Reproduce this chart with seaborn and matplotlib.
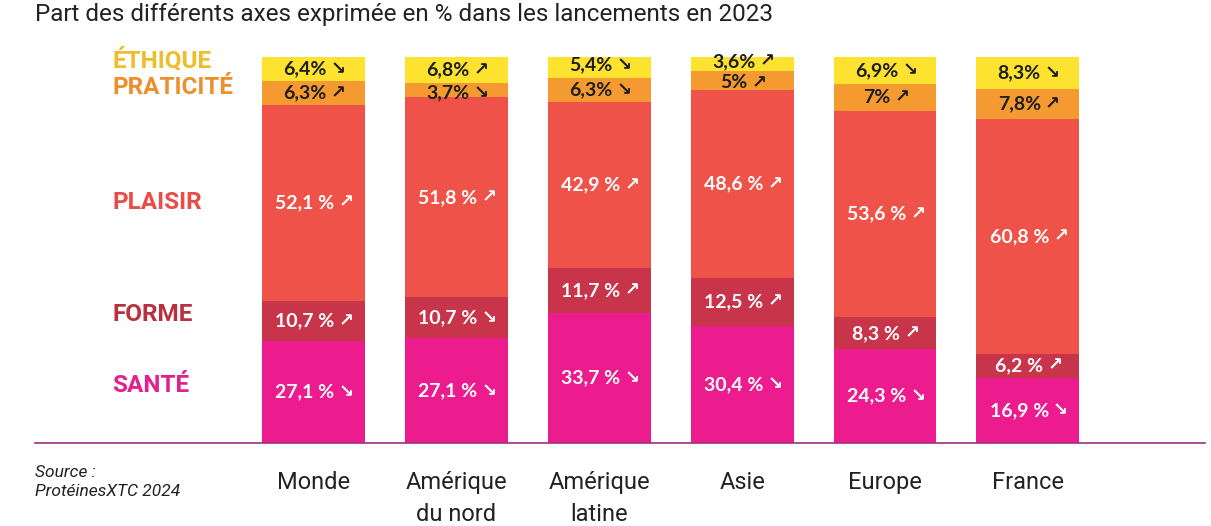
import numpy as np
import pandas as pd
import matplotlib
matplotlib.use("Agg")
import matplotlib.pyplot as plt
import seaborn as sns

regions = ["Monde", "Amérique\ndu nord", "Amérique\nlatine", "Asie", "Europe", "France"]
axes_names = ["SANTÉ", "FORME", "PLAISIR", "PRATICITÉ", "ÉTHIQUE"]
sante = [27.1, 27.1, 33.7, 30.4, 24.3, 16.9]
forme = [10.7, 10.7, 11.7, 12.5, 8.3, 6.2]
plaisir = [52.1, 51.8, 42.9, 48.6, 53.6, 60.8]
praticite = [6.3, 3.7, 6.3, 5.0, 7.0, 7.8]
ethique = [6.4, 6.8, 5.4, 3.6, 6.9, 8.3]
sante_tr = ["down", "down", "down", "down", "down", "down"]
forme_tr = ["up", "down", "up", "up", "up", "up"]
plaisir_tr = ["up", "up", "up", "up", "up", "up"]
praticite_tr = ["up", "down", "down", "up", "up", "up"]
ethique_tr = ["down", "up", "down", "up", "down", "down"]

colors = ["#ec1c8e", "#c8354a", "#ef5249", "#f59a31", "#fde22f"]
label_colors = ["#e0218f", "#b8313f", "#e94d47", "#ec8f2c", "#efbd2a"]
text_colors = ["white", "white", "white", "#1e1e1e", "#1e1e1e"]

series = [sante, forme, plaisir, praticite, ethique]
trends = [sante_tr, forme_tr, plaisir_tr, praticite_tr, ethique_tr]

vals = np.array(series, dtype=float)
totals = vals.sum(axis=0)
norm = vals / totals * 100.0
cum = np.cumsum(norm, axis=0)

sns.set_theme(style="white")
plt.rcParams["font.family"] = ["Lato", "DejaVu Sans"]

fig = plt.figure(figsize=(12.11, 5.26), dpi=100)
ax = fig.add_axes([35 / 1211, (526 - 443) / 526, (1205 - 35) / 1211, (443 - 57) / 526])

order = list(range(len(regions)))
for k in range(len(series) - 1, -1, -1):
    df = pd.DataFrame({"pos": order, "val": cum[k]})
    sns.barplot(data=df, x="pos", y="val", color=colors[k], width=0.72,
                saturation=1, ax=ax, native_scale=True, linewidth=0)

arrow = {"up": "↗", "down": "↘"}
for k in range(len(series)):
    for i in range(len(regions)):
        bottom = cum[k][i] - norm[k][i]
        h = norm[k][i]
        yc = bottom + h / 2
        if h < 5.5 and k == 4:
            yc += 0.6
        if h < 5.5 and k == 3:
            yc -= 0.6
        v = series[k][i]
        s = f"{v:.1f}".replace(".", ",")
        if s.endswith(",0"):
            s = s[:-2]
        sep = "" if k >= 3 else " "
        txt = s + sep + "%"
        t = ax.text(i - 0.06, yc, txt, ha="center", va="center", color=text_colors[k],
                    fontsize=14, fontweight="bold", family=["Lato", "DejaVu Sans"])
        ax.annotate(arrow[trends[k][i]], xy=(1, 0.5), xycoords=t, xytext=(3, 0),
                    textcoords="offset points", ha="left", va="center",
                    color=text_colors[k], fontsize=13, fontweight="bold",
                    family=["DejaVu Sans"])

ax.set_xlim(-1.95, 6.24)
ax.set_ylim(0, 100)
ax.set_xticks(order)
ax.set_xticklabels(regions, fontsize=17, family=["Roboto", "DejaVu Sans"], color="#222222",
                   linespacing=1.5)
ax.tick_params(axis="x", length=0, pad=20)
ax.set_yticks([])
ax.set_xlabel("")
ax.set_ylabel("")
for s in ["top", "left", "right"]:
    ax.spines[s].set_visible(False)
ax.spines["bottom"].set_color("#a0307f")
ax.spines["bottom"].set_linewidth(1.2)

label_y = [15.0, 33.4, 62.4, 92.0, 99.2]
for k in range(len(series)):
    ax.text(-1.41, label_y[k], axes_names[k], ha="left", va="center",
            color=label_colors[k], fontsize=17.5, fontweight="bold",
            family=["Roboto", "DejaVu Sans"])

fig.text(35 / 1211, 1 - 15 / 526, "Part des différents axes exprimée en % dans les lancements en 2023",
         ha="left", va="center", fontsize=17.5, color="#222222", family=["Roboto", "DejaVu Sans"])
fig.text(35 / 1211, 1 - 482 / 526, "Source :\nProtéinesXTC 2024", ha="left", va="center",
         fontsize=12.5, style="italic", color="#222222", family=["Roboto", "DejaVu Sans"],
         linespacing=1.3)

fig.savefig("out.png", dpi=100)
